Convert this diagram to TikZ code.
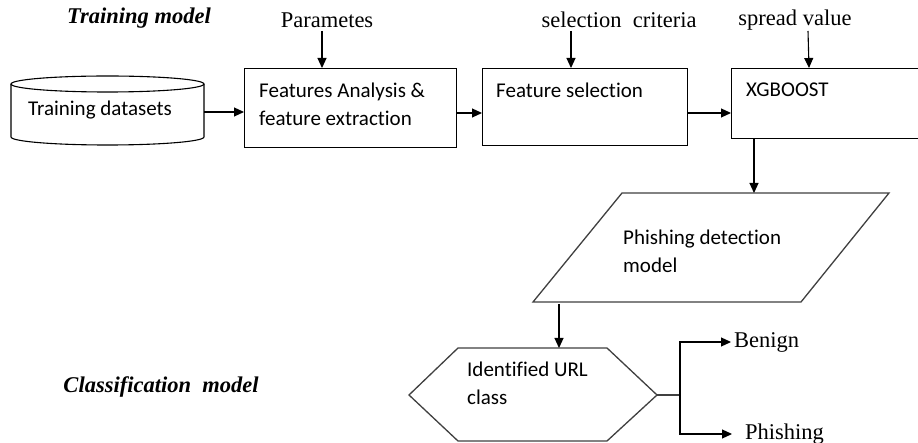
\documentclass[tikz,border=0pt]{standalone}
\usepackage{fontspec}
\setmainfont{Liberation Serif}
\newfontfamily\boxfont[Ligatures=NoCommon]{Carlito}
\usetikzlibrary{arrows.meta}
\tikzset{
  box/.style={draw, line width=1.1pt, rectangle, anchor=north west, inner sep=0pt},
  boxtext/.style={font=\boxfont\fontsize{21}{28}\selectfont, align=left, anchor=west, inner sep=0pt},
  lbl/.style={font=\fontsize{22.5}{24}\selectfont, inner sep=0pt},
  title/.style={font=\bfseries\itshape\fontsize{22.5}{24}\selectfont, inner sep=0pt},
  arr/.style={-{Triangle[length=10pt,width=9pt]}, line width=1.1pt},
  ln/.style={line width=1.1pt},
  shp/.style={draw=black!75, line width=1.3pt, line join=miter}
}
\begin{document}
\begin{tikzpicture}[x=1pt,y=-1pt]
\clip (0,0) rectangle (918,443);
\fill[white] (0,0) rectangle (918,443);
% titles
\node[title] (t1) at (139,18) {Training model};
\node[title] (t2) at (161,387) {Classification\ \ model};
% cylinder
\draw[ln] (107.5,84) ellipse[x radius=96.5pt, y radius=8pt];
\draw[ln] (11,84) -- (11,137) arc[start angle=180, end angle=360, x radius=96.5pt, y radius=8pt] -- (204,84);
\node[boxtext] (ds) at (28,110) {Training datasets};
\coordinate (dsR) at (204,112);
% boxes
\node[box, minimum width=212pt, minimum height=79pt] (b1) at (244,68) {};
\node[boxtext] (b1t) at (259,104) {Features Analysis \&\\feature extraction};
\node[box, minimum width=205pt, minimum height=77pt] (b2) at (482,68) {};
\node[boxtext] (b2t) at (496,90) {Feature selection};
\node[box, minimum width=200pt, minimum height=70pt] (b3) at (731,68) {};
\node[boxtext] (b3t) at (746,90) {XGBOOST};
% top labels
\node[lbl] (p1) at (327,20) {Parametes};
\node[lbl] (p2) at (619,20) {selection\ \ criteria};
\node[lbl] (p3) at (795,20) {spread value};
\coordinate (a1) at (322,31);
\coordinate (a2) at (571,31);
\coordinate (a3) at (808,31);
\draw[arr] (a1) -- (b1.north -| a1);
\draw[arr] (a2) -- (b2.north -| a2);
\draw[arr] (a3) -- (809,68);
% horizontal arrows
\draw[arr] (dsR) -- (b1.west |- dsR);
\draw[arr] (b1.east |- 0,113) -- (b2.west |- 0,113);
\draw[arr] (b2.east |- 0,113) -- (b3.west |- 0,113);
% parallelogram
\coordinate (pgT) at (754,193);
\draw[shp] (622,193) -- (889,193) -- (801,302) -- (533,302) -- cycle;
\node[boxtext] (pgt) at (623,251) {Phishing detection\\model};
\draw[arr] (b3.south -| pgT) -- (pgT);
% hexagon
\coordinate (hxT) at (559,348);
\coordinate (hxR) at (657,395);
\coordinate (pgB) at (559,304);
\draw[shp] (409,395) -- (458,348) -- (607,348) -- (657,395) -- (607,441) -- (458,441) -- cycle;
\node[boxtext] (hxt) at (467,383) {Identified URL\\class};
\draw[arr] (pgB) -- (hxT);
% outputs
\node[lbl, anchor=west] (ben) at (734,342) {Benign};
\node[lbl, anchor=west] (phi) at (745,434) {Phishing};
\coordinate (sp) at (680,395);
\draw[ln, draw=black!75] (hxR) -- (sp);
\draw[arr] (sp) |- ([xshift=-3pt]ben.west);
\draw[arr] (sp) |- ([xshift=-13pt]phi.west);
\end{tikzpicture}
\end{document}
